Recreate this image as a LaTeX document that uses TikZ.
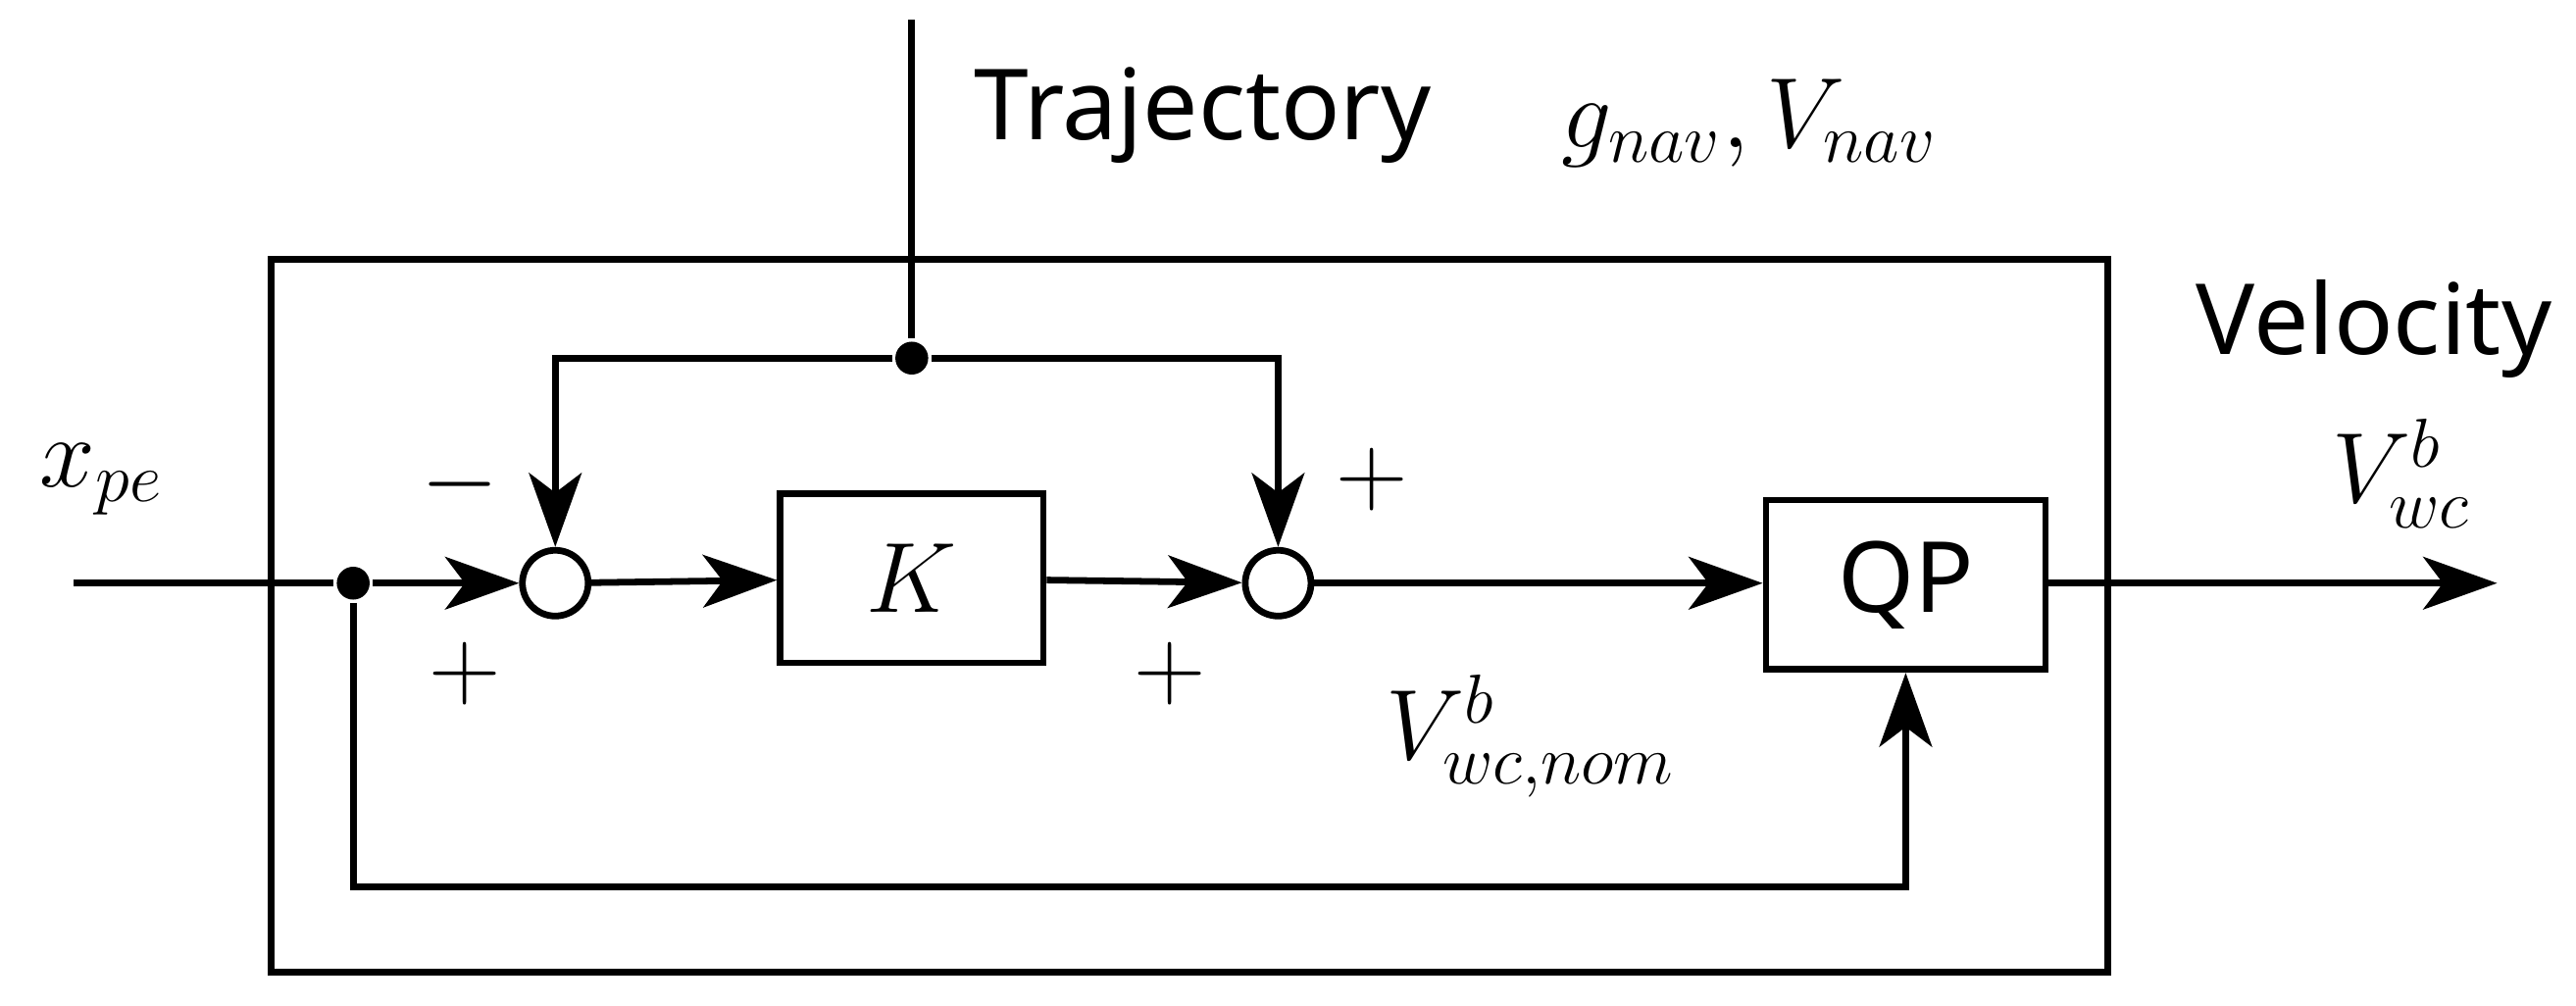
\documentclass[tikz,border=0pt]{standalone}
\usepackage{fontspec}
\setmainfont{Noto Sans}
\usetikzlibrary{arrows.meta}
\begin{document}
\begin{tikzpicture}[x=0.01cm,y=-0.01cm,
  line width=1.15pt,
  arr/.style={-{Stealth[length=0.45cm,width=0.32cm,inset=0.12cm]}},
  blk/.style={draw,line width=1.15pt,minimum width=1.6cm,minimum height=1.03cm,inner sep=0},
  sum/.style={draw,circle,line width=1.15pt,minimum size=0.4cm,inner sep=0},
  dot/.style={fill,circle,minimum size=0.2cm,inner sep=0},
  lbl/.style={font=\fontsize{17}{20}\selectfont,inner sep=0}]
\useasboundingbox (0,0) rectangle (1568,612);
\draw (165,158) rectangle (1283,592);
\coordinate (top) at (555,12);
\node[dot] (d1) at (555,218) {};
\coordinate (l1) at (338,218);
\coordinate (r1) at (778,218);
\node[sum] (s1) at (338,355) {};
\node[sum] (s2) at (778,355) {};
\coordinate (in) at (45,355);
\node[dot] (d2) at (215,355) {};
\node[blk,minimum width=1.6cm] (K) at (555,352) {\fontsize{17}{20}\selectfont$K$};
\node[blk,minimum width=1.7cm] (QP) at (1160,356) {\fontsize{17}{20}\selectfont QP};
\coordinate (out) at (1520,355);
\coordinate (b1) at (215,540);
\coordinate (b2) at (1160,540);
\draw (top) -- (d1);
\draw[arr] (d1) -- (l1) -- (s1);
\draw[arr] (d1) -- (r1) -- (s2);
\draw (in) -- (d2);
\draw[arr] (d2) -- (s1);
\draw[arr] (s1) -- (K);
\draw[arr] (K) -- (s2);
\draw[arr] (s2) -- (s2 -| QP.west);
\draw[arr] (QP.east |- out) -- (out);
\draw[arr] (d2) -- (b1) -- (b2) -- (QP.south);
\node[lbl] (t1) at (732,70) {Trajectory};
\node[lbl] (t2) at (1065,75) {$g_{nav},V_{nav}$};
\node[lbl] (t3) at (1445,200) {Velocity};
\node[lbl] (t4) at (1462,288) {$V^b_{wc}$};
\node[lbl] (t5) at (62,292) {$x_{pe}$};
\node[lbl] (m1) at (280,295) {$-$};
\node[lbl] (p1) at (283,410) {$+$};
\node[lbl] (p2) at (835,292) {$+$};
\node[lbl] (p3) at (712,410) {$+$};
\node[lbl] (t6) at (932,448) {$V^b_{wc,nom}$};
\end{tikzpicture}
\end{document}
